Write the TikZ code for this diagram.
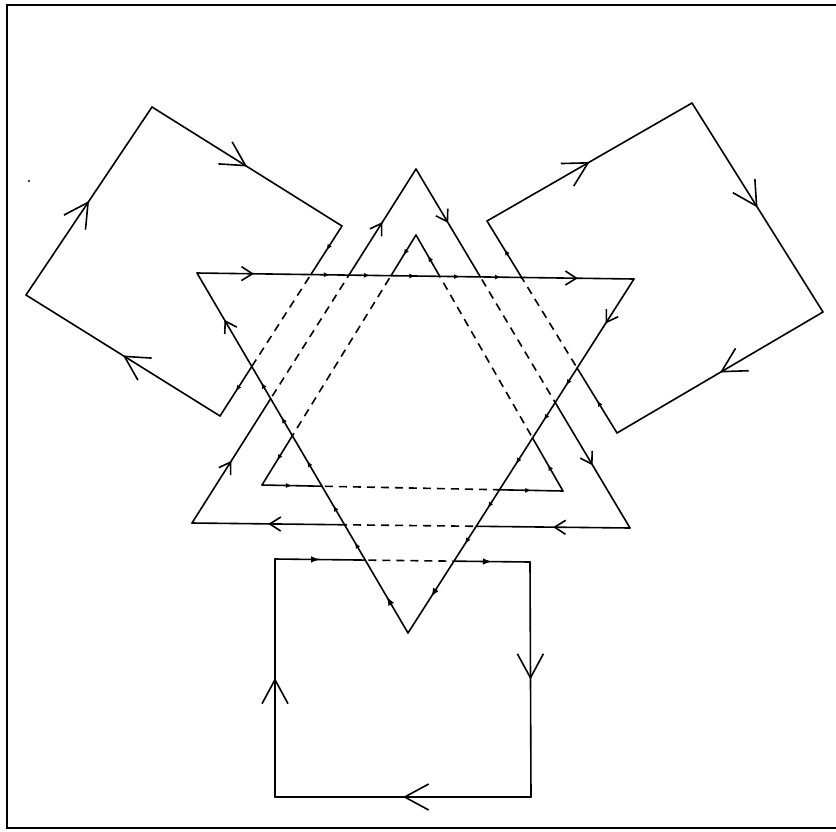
\documentclass[tikz,border=0pt]{standalone}
\usetikzlibrary{arrows.meta,decorations.markings,calc}
\tikzset{
  ln/.style={line width=1.6pt, line cap=round, line join=round},
  dsh/.style={line width=1.6pt, dash pattern=on 8pt off 6pt, dash phase=11pt},
  bigmk/.style={postaction={decorate}, decoration={markings, mark=at position 0.5 with {\arrow{Straight Barb[length=24pt,width=26pt]}}}},
  medmk/.style={postaction={decorate}, decoration={markings, mark=at position 0.5 with {\arrow{Straight Barb[length=11pt,width=14pt]}}}},
  smlmk/.style={postaction={decorate}, decoration={markings, mark=at position 0.5 with {\arrow{Latex[length=6pt,width=5pt]}}}},
  filmk/.style={postaction={decorate}, decoration={markings, mark=at position 0.5 with {\arrow{Latex[length=9pt,width=6.5pt]}}}},
}
\begin{document}
\begin{tikzpicture}[x=1pt,y=-1pt]
\useasboundingbox (0,0) rectangle (836,831);
% frame
\draw[line width=2.6pt] (836,5) -- (7,5) -- (7,828) -- (836,828);
\fill (29,181) circle (1.2pt);
% main vertices
\coordinate (dA) at (197,273);
\coordinate (dB) at (634,279);
\coordinate (dC) at (408,633);
\coordinate (uT) at (416,169);
\coordinate (uL) at (192,523);
\coordinate (uR) at (630,528);
\coordinate (iT) at (416,235);
\coordinate (iL) at (262,485);
\coordinate (iR) at (563,491);
\coordinate (lq1) at (26,295);
\coordinate (lq2) at (152,107);
\coordinate (lq3) at (342,226);
\coordinate (lq4) at (220,416);
\coordinate (rq1) at (487,221);
\coordinate (rq2) at (692,103);
\coordinate (rq3) at (823,312);
\coordinate (rq4) at (617,433);
\coordinate (bq1) at (275,559);
\coordinate (bq2) at (530,562);
\coordinate (bq3) at (531,797);
\coordinate (bq4) at (275,797);
% crossings with top edge A-B
\coordinate (a1) at (intersection of lq3--lq4 and dA--dB);
\coordinate (a2) at (intersection of uT--uL and dA--dB);
\coordinate (a3) at (intersection of iT--iL and dA--dB);
\coordinate (a4) at (intersection of iT--iR and dA--dB);
\coordinate (a5) at (intersection of uT--uR and dA--dB);
\coordinate (a6) at (intersection of rq4--rq1 and dA--dB);
% crossings with right edge B-C
\coordinate (b1) at (intersection of rq4--rq1 and dB--dC);
\coordinate (b2) at (intersection of uT--uR and dB--dC);
\coordinate (b3) at (intersection of iT--iR and dB--dC);
\coordinate (b4) at (intersection of iL--iR and dB--dC);
\coordinate (b5) at (intersection of uL--uR and dB--dC);
\coordinate (b6) at (intersection of bq1--bq2 and dB--dC);
% crossings with left edge C-A
\coordinate (c1) at (intersection of bq1--bq2 and dC--dA);
\coordinate (c2) at (intersection of uL--uR and dC--dA);
\coordinate (c3) at (intersection of iL--iR and dC--dA);
\coordinate (c4) at (intersection of iT--iL and dC--dA);
\coordinate (c5) at (intersection of uT--uL and dC--dA);
\coordinate (c6) at (intersection of lq3--lq4 and dC--dA);
% down-pointing triangle
\draw[ln,medmk] (dA) -- (a1);
\draw[ln,medmk] (a6) -- (dB);
\draw[ln,medmk] (dB) -- (b1);
\draw[ln,filmk] (b6) -- (dC);
\draw[ln,filmk] (dC) -- (c1);
\draw[ln,medmk] (c6) -- (dA);
\foreach \p/\q in {a1/a2,a2/a3,a3/a4,a4/a5,a5/a6,b1/b2,b2/b3,b3/b4,b4/b5,b5/b6,c1/c2,c2/c3,c3/c4,c4/c5,c5/c6}
  \draw[ln,smlmk] (\p) -- (\q);
% big up-pointing triangle
\draw[ln,medmk] (uT) -- (a5);
\draw[dsh] (a5) -- (b2);
\draw[ln,medmk] (b2) -- (uR);
\draw[ln,medmk] (uR) -- (b5);
\draw[dsh] (b5) -- (c2);
\draw[ln,medmk] (c2) -- (uL);
\draw[ln,medmk] (uL) -- (c5);
\draw[dsh] (c5) -- (a2);
\draw[ln,medmk] (a2) -- (uT);
% inner up-pointing triangle
\draw[ln,smlmk] (iT) -- (a3);
\draw[dsh] (a3) -- (c4);
\draw[ln,smlmk] (c4) -- (iL);
\draw[ln,smlmk] (iL) -- (c3);
\draw[dsh] (c3) -- (b4);
\draw[ln,smlmk] (b4) -- (iR);
\draw[ln,smlmk] (iR) -- (b3);
\draw[dsh] (b3) -- (a4);
\draw[ln,smlmk] (a4) -- (iT);
% left square
\draw[ln,bigmk] (lq1) -- (lq2);
\draw[ln,bigmk] (lq2) -- (lq3);
\draw[ln,smlmk] (lq3) -- (a1);
\draw[dsh] (a1) -- (c6);
\draw[ln,smlmk] (c6) -- (lq4);
\draw[ln,bigmk] (lq4) -- (lq1);
% right square
\draw[ln,bigmk] (rq1) -- (rq2);
\draw[ln,bigmk] (rq2) -- (rq3);
\draw[ln,bigmk] (rq3) -- (rq4);
\draw[ln,smlmk] (rq4) -- (b1);
\draw[dsh] (b1) -- (a6);
\draw[ln,smlmk] (a6) -- (rq1);
% bottom square
\draw[ln,filmk] (bq1) -- (c1);
\draw[dsh] (c1) -- (b6);
\draw[ln,filmk] (b6) -- (bq2);
\draw[ln,bigmk] (bq2) -- (bq3);
\draw[ln,bigmk] (bq3) -- (bq4);
\draw[ln,bigmk] (bq4) -- (bq1);
\end{tikzpicture}
\end{document}
